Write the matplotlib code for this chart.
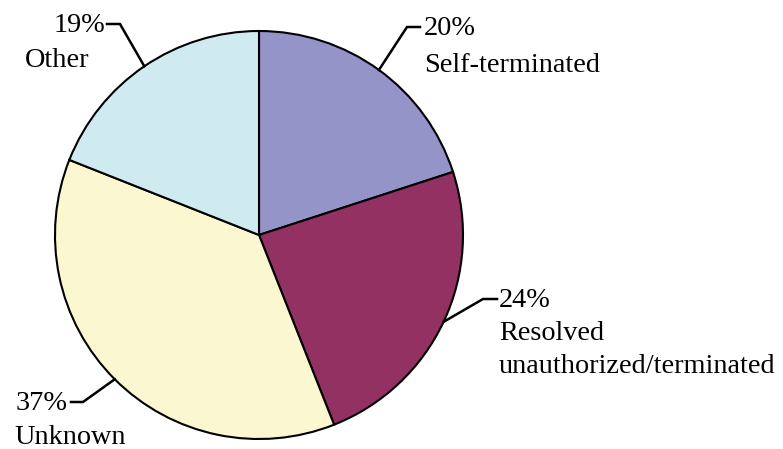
import numpy as np
import matplotlib.pyplot as plt

plt.rcParams['font.family'] = ['Liberation Serif', 'DejaVu Serif']

labels = ['Self-terminated', 'Resolved\nunauthorized/terminated', 'Unknown', 'Other']
pcts = [20, 24, 37, 19]
colors = ['#9494c8', '#933262', '#fbf7d0', '#cfebef']

W, H = 783, 449
cx, cy, r = 259, H - 235, 204

fig = plt.figure(figsize=(W / 100, H / 100), dpi=100)
ax = fig.add_axes([0, 0, 1, 1])
ax.pie(pcts, colors=colors, startangle=90, counterclock=False,
       center=(cx, cy), radius=r, frame=True,
       wedgeprops=dict(edgecolor='black', linewidth=1.5))
ax.set_xlim(0, W)
ax.set_ylim(0, H)
ax.set_aspect('equal')
ax.axis('off')

# label layout: elbow point, line end, text x, baselines (pixel coords from top)
layout = [
    dict(elbow=(407, 27), end=(420, 27), tx=424, base=[35, 72]),
    dict(elbow=(483, 299), end=(497, 299), tx=499, base=[307, 340, 373]),
    dict(elbow=(83, 402), end=(71, 402), tx=None, base=[410, 444]),
    dict(elbow=(120, 24), end=(107, 24), tx=None, base=[32, 67]),
]
text_x = {2: (16, 14), 3: (54, 25)}

cum = np.cumsum([0] + pcts)
for i, (lab, p, lay) in enumerate(zip(labels, pcts, layout)):
    mid = np.radians(90 - (cum[i] + p / 2) * 3.6)
    sx, sy = cx + r * np.cos(mid), cy + r * np.sin(mid)
    ex, ey = lay['elbow']
    fx, fy = lay['end']
    ax.plot([sx, ex, fx], [sy, H - ey, H - fy], color='black', lw=1.8,
            solid_joinstyle='miter')
    lines = [f'{p}%'] + lab.split('\n')
    for j, (txt, b) in enumerate(zip(lines, lay['base'])):
        if lay['tx'] is not None:
            x = lay['tx']
        else:
            x = text_x[i][0] if j == 0 else text_x[i][1]
        ax.text(x, H - b, txt, ha='left', va='baseline', fontsize=20.3)

fig.savefig('out.png', dpi=100)
